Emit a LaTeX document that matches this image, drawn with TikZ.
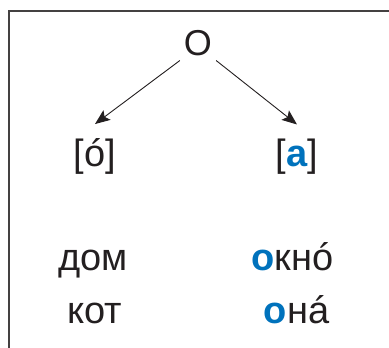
\documentclass[tikz,border=0pt]{standalone}
\usepackage{fontspec}
\setmainfont{Liberation Sans}
\definecolor{inkblue}{RGB}{0,114,188}
\definecolor{ink}{RGB}{35,31,32}
\tikzset{
  word/.style={anchor=base, text=ink, inner sep=0pt, font=\fontsize{38}{40}\selectfont},
  sound/.style={word, outer ysep=14pt},
  arr/.style={-{Stealth[length=15pt,width=12pt,inset=3pt]}, draw=ink, line width=0.9pt}
}
\usetikzlibrary{arrows.meta}
\begin{document}
\begin{tikzpicture}[x=1pt,y=-1pt]

	\useasboundingbox (0,0) rectangle (389,348);

	%Frame
	\draw[line width=1.6pt, draw=ink!85] (9,348) -- (9,11) -- (389,11);

	%Letter
	\node[word, inner sep=4pt, font=\fontsize{36}{38}\selectfont] (letter) at (198,56) {O};

	%Sounds
	\node[sound] (stressed) at (95,166) {[ó]};
	\node[sound] (reduced) at (297,166) {[\textcolor{inkblue}{\textbf{a}}]};

	\draw[arr] (letter.south west) -- (stressed.north);
	\draw[arr] (letter.south east) -- (reduced.north);

	%Words
	\node[word] (dom) at (93,270) {дом};
	\node[word] (kot) at (94.5,323) {кот};
	\node[word] (okno) at (292.5,270) {\textcolor{inkblue}{\textbf{о}}кнó};
	\node[word] (ona) at (296.5,323) {\textcolor{inkblue}{\textbf{о}}нá};

\end{tikzpicture}
\end{document}
